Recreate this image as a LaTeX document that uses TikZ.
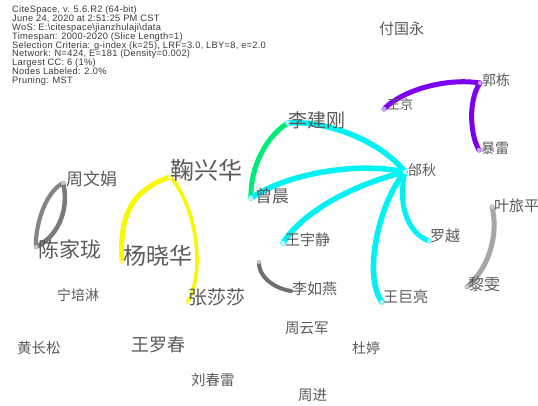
\documentclass[tikz,border=0pt]{standalone}
\usepackage{fontspec}
\setmainfont{Liberation Sans}
\newfontfamily\hdrfont[LetterSpace=3]{Liberation Sans}
\newfontfamily\cjk{Noto Sans CJK SC}
\definecolor{labgray}{HTML}{5A5A5A}
\definecolor{hdrgray}{HTML}{3A3A3A}
\definecolor{ecyan}{HTML}{00F2F2}
\definecolor{lcyan}{HTML}{B8FAFA}
\definecolor{egreen}{HTML}{00EC78}
\definecolor{eyellow}{HTML}{F8F800}
\definecolor{lyellow}{HTML}{FAFA9A}
\definecolor{epurple}{HTML}{7D00F5}
\definecolor{lpurple}{HTML}{C8A0F8}
\definecolor{egrayA}{HTML}{858585}
\definecolor{egrayB}{HTML}{7A7A7A}
\definecolor{egrayC}{HTML}{A6A6A6}
\definecolor{egrayD}{HTML}{6E6E6E}
\definecolor{lgray}{HTML}{C8C8C8}
\begin{document}
\begin{tikzpicture}[x=1pt,y=-1pt,
  lab/.style={anchor=west,inner sep=0pt,text=labgray,font=\cjk\fontsize{#1}{#1}\selectfont},
  edge/.style={line cap=round,line width=#1}]
\fill[white] (0,0) rectangle (538,405);
\useasboundingbox (0,0) rectangle (538,405);

% header
\node[anchor=north west,align=left,inner sep=0pt,text=hdrgray,
      font=\hdrfont\fontsize{9.3}{8.8}\selectfont] (hdr) at (12,6)
{CiteSpace, v. 5.6.R2 (64-bit)\\
June 24, 2020 at 2:51:25 PM CST\\
WoS: E:\textbackslash citespace\textbackslash jianzhulaji\textbackslash data\\
Timespan: 2000-2020 (Slice Length=1)\\
Selection Criteria: g-index (k=25), LRF=3.0, LBY=8, e=2.0\\
Network: N=424, E=181 (Density=0.002)\\
Largest CC: 6 (1\%)\\
Nodes Labeled: 2.0\%\\
Pruning: MST};

% node points
\coordinate (zwj) at (63,183);
\coordinate (cjl) at (36,247);
\coordinate (jxh) at (170,177);
\coordinate (yxh) at (122,262);
\coordinate (zss) at (187,303);
\coordinate (zc) at (251,198);
\coordinate (ljg) at (288,123);
\coordinate (tq) at (405,172);
\coordinate (wj) at (384,109);
\coordinate (gd) at (480,83);
\coordinate (bl) at (479,150);
\coordinate (ylp) at (492,207);
\coordinate (lw) at (467,287);
\coordinate (ly) at (429,241);
\coordinate (wyj) at (283,243);
\coordinate (anon) at (259,262);
\coordinate (lry) at (291,291);
\coordinate (wjl) at (382,302);

% edges
\draw[edge=4.2,egrayA] (zwj) .. controls (44,193) and (35,228) .. (cjl);
\draw[edge=4.5,egrayB] (zwj) .. controls (69,205) and (61,235) .. (cjl);
\draw[edge=5,eyellow] (jxh) .. controls (125,192) and (120,225) .. (yxh);
\draw[edge=3.5,eyellow] (jxh) .. controls (193,200) and (208,268) .. (zss);
\draw[edge=5,egreen] (ljg) .. controls (268,135) and (250,165) .. (zc);
\draw[edge=5.5,ecyan] (ljg) .. controls (325,120) and (380,140) .. (tq);
\draw[edge=5.5,ecyan] (tq) .. controls (360,162) and (290,172) .. (zc);
\draw[edge=5.5,ecyan] (tq) .. controls (362,182) and (305,208) .. (wyj);
\draw[edge=5.5,ecyan] (tq) .. controls (380,200) and (362,275) .. (wjl);
\draw[edge=5,ecyan] (tq) .. controls (398,200) and (405,232) .. (ly);
\draw[edge=5,epurple] (wj) .. controls (405,88) and (450,78) .. (gd);
\draw[edge=5,epurple] (gd) .. controls (468,100) and (470,135) .. (bl);
\draw[edge=5,egrayC] (ylp) .. controls (498,230) and (492,265) .. (lw);
\draw[edge=4,egrayD] (anon) .. controls (258,275) and (272,288) .. (lry);

% light node dots
\fill[lgray] (zwj) circle (2.2pt);
\fill[lgray] (cjl) circle (2.2pt);
\fill[lyellow] (jxh) circle (2.2pt);
\fill[lyellow] (yxh) circle (2.2pt);
\fill[lyellow] (zss) circle (1.8pt);
\fill[lcyan] (zc) circle (2.4pt);
\fill[lcyan] (ljg) circle (2.4pt);
\fill[lcyan] (tq) circle (2.4pt);
\fill[lcyan] (wyj) circle (2.2pt);
\fill[lcyan] (wjl) circle (2pt);
\fill[lcyan] (ly) circle (2pt);
\fill[lpurple] (wj) circle (2.4pt);
\fill[lpurple] (gd) circle (2.2pt);
\fill[lpurple] (bl) circle (2.2pt);
\fill[lgray] (ylp) circle (2.2pt);
\fill[lgray] (lw) circle (2.2pt);
\fill[lgray] (anon) circle (2pt);

% labels
\node[lab=17] (t-zwj) at (66,179) {周文娟};
\node[lab=21] (t-cjl) at (38,249) {陈家珑};
\node[lab=24] (t-jxh) at (170,170) {鞠兴华};
\node[lab=23] (t-yxh) at (123,256) {杨晓华};
\node[lab=19] (t-zss) at (188,297) {张莎莎};
\node[lab=14] (t-npl) at (57,295) {宁培淋};
\node[lab=17] (t-zc) at (255,196) {曾晨};
\node[lab=19] (t-ljg) at (288,120) {李建刚};
\node[lab=14] (t-tq) at (408,170) {邰秋};
\node[lab=13] (t-wj) at (387,105) {王京};
\node[lab=14] (t-gd) at (482,80) {郭栋};
\node[lab=14] (t-bl) at (481,148) {暴雷};
\node[lab=15] (t-fgy) at (379,29) {付国永};
\node[lab=15] (t-ylp) at (494,206) {叶旅平};
\node[lab=16] (t-lw) at (468,284) {黎雯};
\node[lab=15] (t-ly) at (430,236) {罗越};
\node[lab=15] (t-wyj) at (285,240) {王宇静};
\node[lab=15] (t-lry) at (292,289) {李如燕};
\node[lab=15] (t-wjl) at (383,297) {王巨亮};
\node[lab=14.5] (t-zyj) at (285,328) {周云军};
\node[lab=14.5] (t-hcs) at (17,348) {黄长松};
\node[lab=18] (t-wlc) at (131,345) {王罗春};
\node[lab=14] (t-dt) at (352,348) {杜婷};
\node[lab=14.5] (t-lcl) at (191,380) {刘春雷};
\node[lab=14.5] (t-zj) at (298,395) {周进};
\end{tikzpicture}
\end{document}
